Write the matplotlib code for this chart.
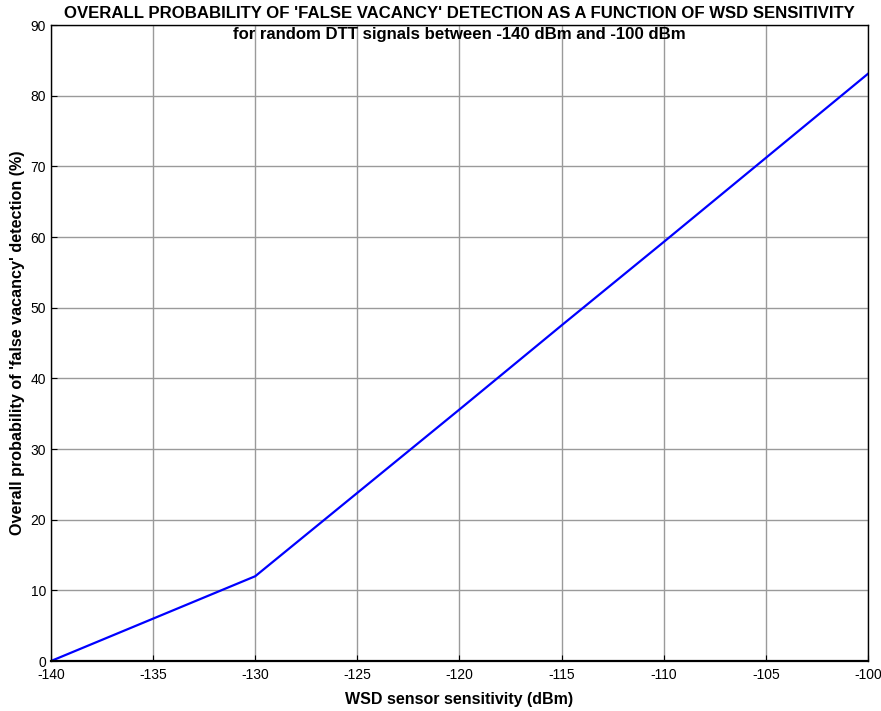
import matplotlib
matplotlib.use("Agg")
import matplotlib.pyplot as plt

plt.rcParams['font.family'] = ['Liberation Sans', 'DejaVu Sans']
plt.rcParams['axes.unicode_minus'] = False

sensitivity = [-140, -135, -130, -125, -120, -115, -110, -105, -100]
prob_false_vacancy = [0, 6.0, 12.0, 23.8, 35.6, 47.5, 59.3, 71.2, 83.1]

fig = plt.figure(figsize=(8.81, 7.11), dpi=100)
ax = fig.add_axes([0.0579, 0.0703, 0.9273, 0.8945])

ax.plot(sensitivity, prob_false_vacancy, color='#0000ff', lw=1.6)

ax.set_xlim(-140, -100)
ax.set_ylim(0, 90)
ax.set_xticks(range(-140, -99, 5))
ax.set_yticks(range(0, 91, 10))
ax.grid(True, color='#9a9a9a', lw=1.0)
ax.tick_params(direction='in', length=4, labelsize=10, width=0.8)
ax.tick_params(axis='x', pad=5)
for s in ax.spines.values():
    s.set_linewidth(1.0)
ax.spines['bottom'].set_linewidth(1.6)

# two-line title, second line sits inside the axes as in the original
fig.text(0.5216, 1 - 13 / 711, "OVERALL PROBABILITY OF 'FALSE VACANCY' DETECTION AS A FUNCTION OF WSD SENSITIVITY",
         ha='center', va='center', fontsize=12.1, fontweight='bold')
fig.text(0.5216, 1 - 34 / 711, "for random DTT signals between -140 dBm and -100 dBm",
         ha='center', va='center', fontsize=12.1, fontweight='bold')

ax.set_xlabel("WSD sensor sensitivity (dBm)", fontsize=11.5, fontweight='bold', labelpad=7.5)
ax.set_ylabel("Overall probability of 'false vacancy' detection (%)", fontsize=11.6,
              fontweight='bold', labelpad=4)

fig.savefig('out.png', dpi=100)
